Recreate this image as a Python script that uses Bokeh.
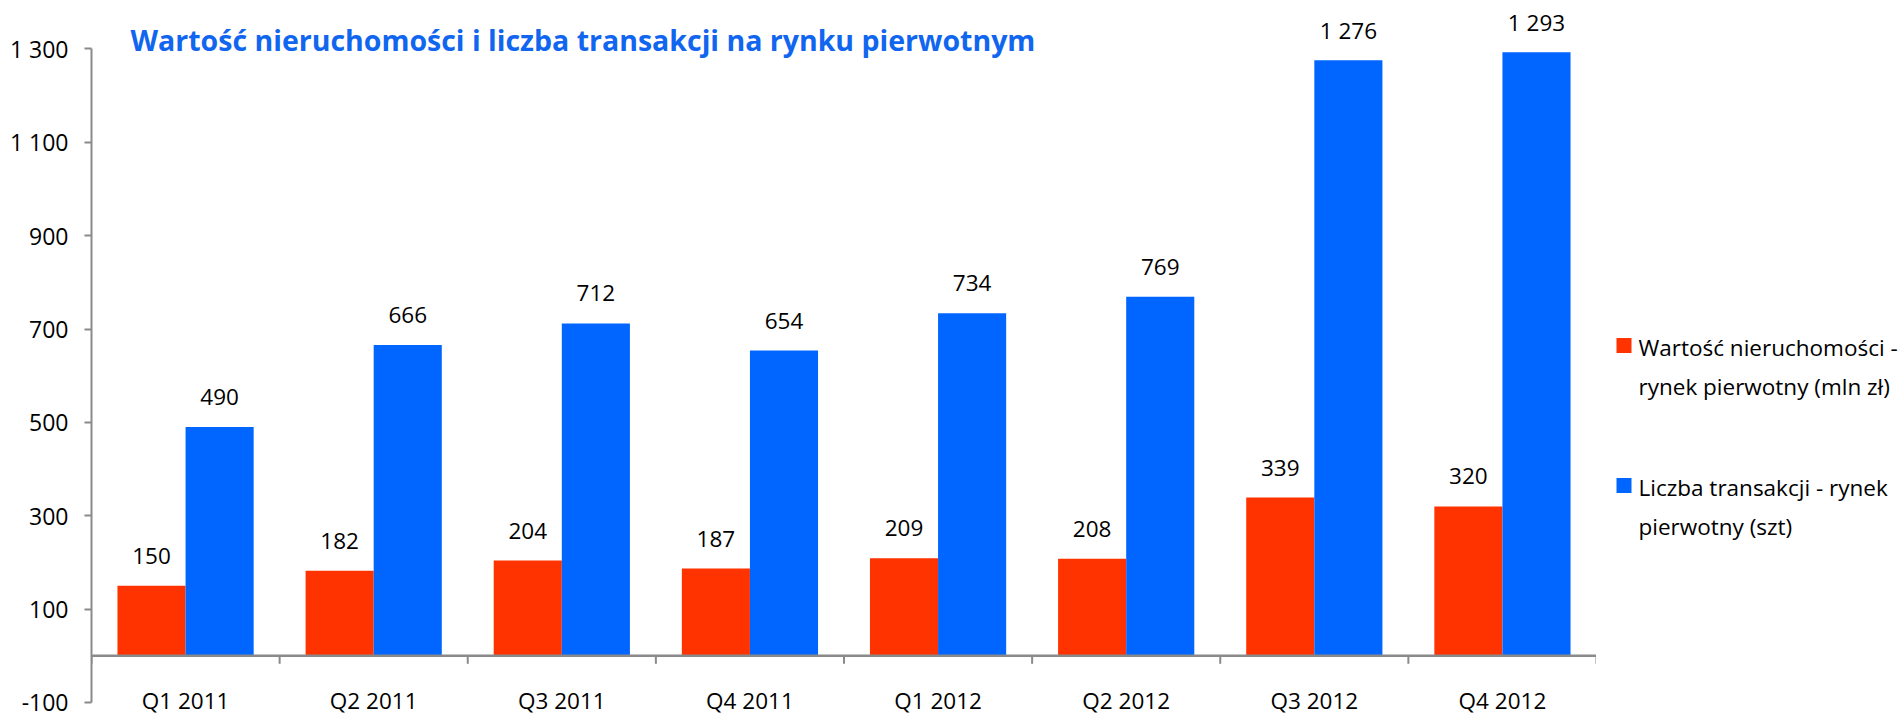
from bokeh.plotting import figure
from bokeh.layouts import row
from bokeh.models import (FactorRange, Range1d, ColumnDataSource, LinearAxis, FixedTicker,
                          Label, Span)
from bokeh.transform import dodge
from bokeh.core.properties import value
from bokeh.embed import file_html
from bokeh.resources import INLINE

# ---- data ----
quarters = ["Q1 2011", "Q2 2011", "Q3 2011", "Q4 2011",
            "Q1 2012", "Q2 2012", "Q3 2012", "Q4 2012"]
wartosc = [150, 182, 204, 187, 209, 208, 339, 320]
liczba = [490, 666, 712, 654, 734, 769, 1276, 1293]
y_ticks = [-100, 100, 300, 500, 700, 900, 1100, 1300]
y_tick_labels = ["-100", "100", "300", "500", "700", "900", "1 100", "1 300"]
title_text = "Wartość nieruchomości i liczba transakcji na rynku pierwotnym"
legend_red = ["Wartość nieruchomości -", "rynek pierwotny (mln zł)"]
legend_blue = ["Liczba transakcji - rynek", "pierwotny (szt)"]

# ---- style ----
RED = "#FF3300"
BLUE = "#0066FF"
TITLE_BLUE = "#1166F0"
AXIS_GRAY = "#8A8A8A"
FONT = "Open Sans"
FS = "22.5px"

H = 718
LEFT = 91
PLOT_W = 1596          # main figure width (frame right edge)
LEG_W = 1902 - PLOT_W  # legend figure width
Y0, Y1 = -134.3, 1403.8
K = H / (Y1 - Y0)  # px per unit
BW = 0.362


def fmt(v):
    return f"{v:,}".replace(",", " ")


p = figure(width=PLOT_W, height=H,
           x_range=FactorRange(factors=quarters, range_padding=0, factor_padding=0),
           y_range=Range1d(Y0, Y1),
           output_backend="svg", toolbar_location=None,
           x_axis_location=None, y_axis_location=None,
           min_border_left=LEFT, min_border_right=0,
           min_border_top=0, min_border_bottom=0)
p.outline_line_color = None
p.grid.visible = False
p.background_fill_color = "white"
p.border_fill_color = "white"

yax = LinearAxis(ticker=FixedTicker(ticks=y_ticks), bounds=(-100, 1300),
                 major_label_overrides={t: l for t, l in zip(y_ticks, y_tick_labels)})
yax.axis_line_color = AXIS_GRAY
yax.axis_line_width = 2
yax.major_tick_line_color = AXIS_GRAY
yax.major_tick_line_width = 2
yax.major_tick_out = 7
yax.major_tick_in = 0
yax.minor_tick_line_color = None
yax.major_label_standoff = 16
yax.major_label_text_font = FONT
yax.major_label_text_font_size = "23px"
yax.major_label_text_color = "black"
p.add_layout(yax, "left")

src = ColumnDataSource(dict(q=quarters, w=wartosc, l=liczba,
                            wl=[fmt(v) for v in wartosc],
                            ll=[fmt(v) for v in liczba]))

p.vbar(x=dodge("q", -BW / 2, range=p.x_range), top="w", bottom=0, width=BW,
       fill_color=RED, line_color=None, source=src)
p.vbar(x=dodge("q", BW / 2, range=p.x_range), top="l", bottom=0, width=BW,
       fill_color=BLUE, line_color=None, source=src)

for col, lab, off in (("w", "wl", -BW / 2), ("l", "ll", BW / 2)):
    p.text(x=dodge("q", off, range=p.x_range), y=col, text=lab, source=src,
           text_align="center", text_baseline="middle", y_offset=-30,
           text_font=value(FONT), text_font_size=FS, text_color="black")

# x axis at zero
p.add_layout(Span(location=0, dimension="width", line_color=AXIS_GRAY, line_width=2.5))
p.segment(x0=dodge("q", -0.5, range=p.x_range), x1=dodge("q", -0.5, range=p.x_range),
          y0=0, y1=-8 / K, line_color=AXIS_GRAY, line_width=2, source=src)
last = ColumnDataSource(dict(q=[quarters[-1]]))
p.segment(x0=dodge("q", 0.5, range=p.x_range), x1=dodge("q", 0.5, range=p.x_range),
          y0=0, y1=-8 / K, line_color=AXIS_GRAY, line_width=2, source=last)
p.text(x="q", y=0, text="q", source=src, y_offset=45,
       text_align="center", text_baseline="middle",
       text_font=value(FONT), text_font_size=FS, text_color="black")

# title
p.add_layout(Label(x=130 - LEFT, y=H - 39, x_units="screen", y_units="screen", text=title_text,
                   text_font=FONT, text_font_style="bold", text_font_size="28.5px",
                   text_color=TITLE_BLUE, text_baseline="middle", text_align="left"))

# ---- legend panel (separate figure, pixel coordinates, y downwards) ----
lg = figure(width=LEG_W, height=H, x_range=Range1d(0, LEG_W), y_range=Range1d(H, 0),
            output_backend="svg", toolbar_location=None,
            x_axis_location=None, y_axis_location=None,
            min_border_left=0, min_border_right=0, min_border_top=0, min_border_bottom=0)
lg.outline_line_color = None
lg.grid.visible = False

SQ = 15
sq_x = 20 + SQ / 2
txt_x = 42
sq_y = [345.0, 485.0]
line_y = [346.8, 385.5, 486.8, 525.5]
lg.rect(x=[sq_x, sq_x], y=sq_y, width=SQ, height=SQ, fill_color=[RED, BLUE], line_color=None)
lines = legend_red + legend_blue
lg.text(x=[txt_x] * 4, y=line_y, text=lines, text_align="left", text_baseline="middle",
        text_font=value(FONT), text_font_size=FS, text_color="black")

layout = row(p, lg, spacing=0)
open("out.html", "w").write(file_html(layout, INLINE))
